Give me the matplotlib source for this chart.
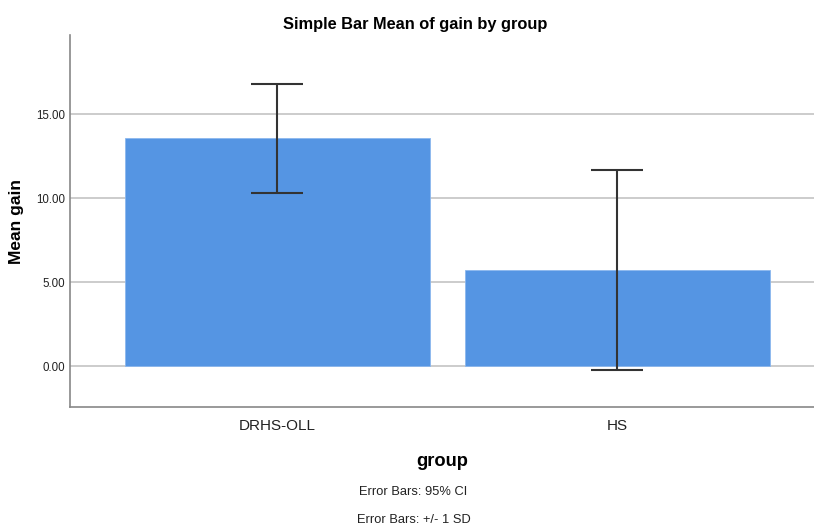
import matplotlib
matplotlib.use("Agg")
import matplotlib.pyplot as plt

plt.rcParams['font.family'] = ['Liberation Sans', 'DejaVu Sans']

groups = ["DRHS-OLL", "HS"]
mean_gain = [13.55, 5.74]
err_upper = [16.81, 11.70]
err_lower = [10.33, -0.22]
y_ticks = [0.0, 5.0, 10.0, 15.0]

fig = plt.figure(figsize=(8.14, 5.26), dpi=100)
ax = fig.add_axes([70 / 814, (526 - 407) / 526, (814 - 70) / 814, (407 - 35) / 526])

x = list(range(len(groups)))
ax.bar(x, mean_gain, width=0.897, color="#5595e3", edgecolor="#8cb8ee",
       linewidth=0.6, zorder=2)

yerr = [[m - lo for m, lo in zip(mean_gain, err_lower)],
        [hi - m for m, hi in zip(mean_gain, err_upper)]]
ax.errorbar(x, mean_gain, yerr=yerr, fmt="none", ecolor="#333333",
            elinewidth=1.5, capsize=18.5, capthick=1.5, zorder=3)

ax.set_xlim(-0.61, 1.578)
ax.set_ylim(-2.44, 19.71)
ax.set_yticks(y_ticks)
ax.set_yticklabels([f"{v:.2f}" for v in y_ticks], fontsize=8.3, color="#222222")
ax.set_xticks(x)
ax.set_xticklabels(groups, fontsize=11, color="#222222")
ax.tick_params(axis="y", length=0, pad=3.5)
ax.tick_params(axis="x", length=0, pad=9)

ax.grid(axis="y", color="#cccccc", linewidth=1.4, zorder=0)
ax.set_axisbelow(True)
for side in ("top", "right"):
    ax.spines[side].set_visible(False)
for side in ("left", "bottom"):
    ax.spines[side].set_color("#888888")
    ax.spines[side].set_linewidth(1.2)

fig.text(415 / 814, 1 - 24 / 526, "Simple Bar Mean of gain by group",
         ha="center", va="center", fontsize=11.8, fontweight="bold")
fig.text(17 / 814, 1 - 222 / 526, "Mean gain", rotation=90,
         ha="center", va="center", fontsize=12.5, fontweight="bold")
fig.text(442 / 814, 1 - 461 / 526, "group",
         ha="center", va="center", fontsize=13.2, fontweight="bold")
fig.text(413 / 814, 1 - 492 / 526, "Error Bars: 95% CI",
         ha="center", va="center", fontsize=9.3, color="#222222")
fig.text(414 / 814, 1 - 520 / 526, "Error Bars: +/- 1 SD",
         ha="center", va="center", fontsize=9.3, color="#222222")

fig.savefig("out.png", dpi=100)
